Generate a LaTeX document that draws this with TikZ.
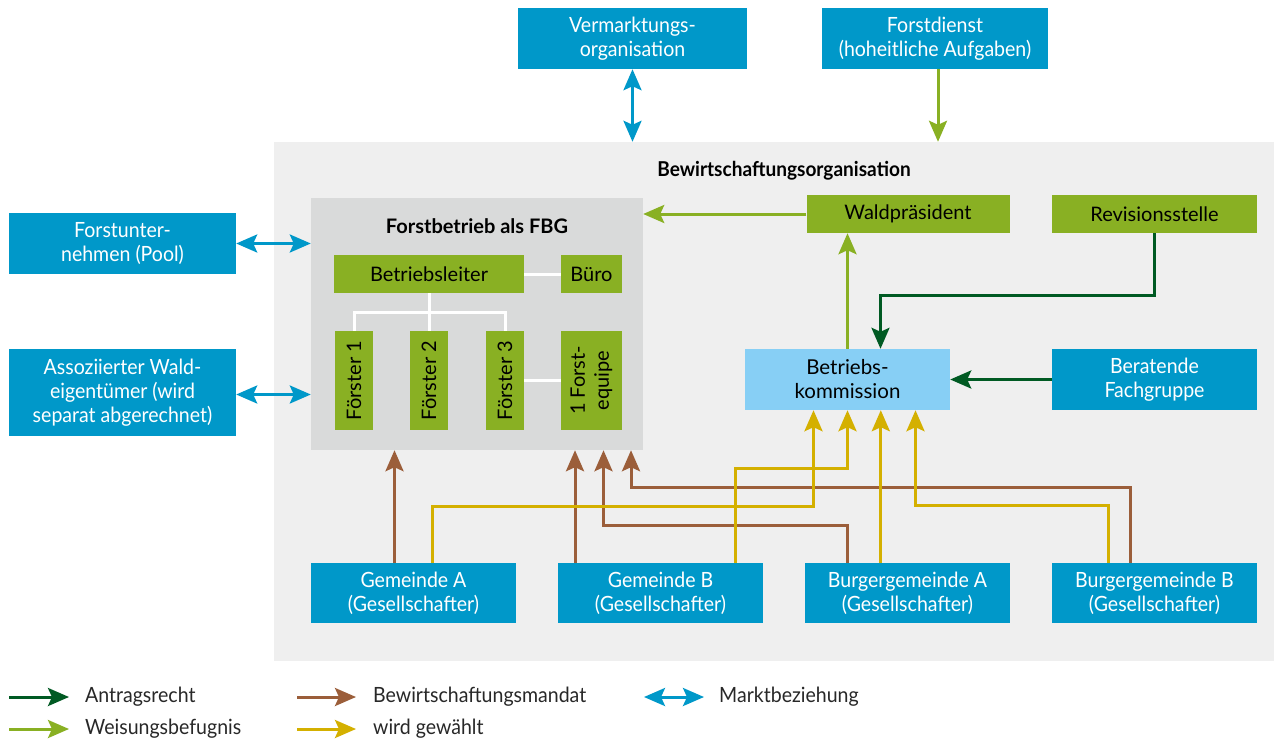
\documentclass[tikz,border=0pt]{standalone}
\usepackage{fontspec}
\setmainfont{Lato}
\newfontfamily\cond[FakeStretch=0.93]{Lato}
\usetikzlibrary{arrows.meta,calc,positioning}
\definecolor{boxblue}{RGB}{0,152,201}
\definecolor{boxgreen}{RGB}{137,176,35}
\definecolor{komblue}{RGB}{135,207,245}
\definecolor{antraggreen}{RGB}{0,90,35}
\definecolor{mandatbrown}{RGB}{155,94,58}
\definecolor{wahlyellow}{RGB}{212,176,0}
\definecolor{orggrey}{RGB}{239,239,239}
\definecolor{fbggrey}{RGB}{217,218,218}
\definecolor{legtext}{RGB}{40,40,40}
\tikzset{
  box/.style={rectangle, inner sep=0pt, align=center},
  bbox/.style={box, fill=boxblue, text=white, font=\cond\fontsize{21}{24}\selectfont},
  gbox/.style={box, fill=boxgreen, text=black, font=\fontsize{20}{22}\selectfont},
  kbox/.style={box, fill=komblue, text=black, font=\fontsize{20.5}{24}\selectfont},
  antrag/.style={line width=3pt, draw=antraggreen, ->},
  weisung/.style={line width=3pt, draw=boxgreen, ->},
  mandat/.style={line width=3pt, draw=mandatbrown, ->},
  gewaehlt/.style={line width=3pt, draw=wahlyellow, ->},
  markt/.style={line width=3pt, draw=boxblue, <->},
  orgline/.style={line width=3pt, draw=white},
  legend/.style={anchor=west, inner sep=0pt, text=legtext, font=\cond\fontsize{21}{24}\selectfont}
}
\begin{document}
\begin{tikzpicture}[x=1pt,y=-1pt,>={Stealth[length=21pt,width=18pt,inset=4pt]}]
\useasboundingbox (0,0) rectangle (1274,742);
\fill[white] (0,0) rectangle (1274,742);
\node (bwo) at (774,401.5) [box, fill=orggrey, minimum width=1000pt, minimum height=519pt] {};
\node (bwotitle) at (784,171) [font=\cond\bfseries\fontsize{20.5}{24}\selectfont] {Bewirtschaftungsorganisation};
\node (fbg) at (477,324) [box, fill=fbggrey, minimum width=332pt, minimum height=252pt] {};
\node (fbgtitle) at (477,226) [font=\bfseries\fontsize{20}{22}\selectfont] {Forstbetrieb als FBG};
% outside
\node (verm) at (632.5,38.5) [bbox, minimum width=229pt, minimum height=61pt] {Vermarktungs-\\organisation};
\node (forstd) at (935,38.5) [bbox, minimum width=226pt, minimum height=61pt] {Forstdienst\\(hoheitliche Aufgaben)};
\node (fu) at (122.5,243.5) [bbox, minimum width=227pt, minimum height=61pt] {Forstunter-\\nehmen (Pool)};
\node (awe) at (122.5,392.5) [bbox, minimum width=227pt, minimum height=87pt] {Assoziierter Wald-\\eigentümer (wird\\separat abgerechnet)};
% forstbetrieb
\node (bl) at (429,274) [gbox, minimum width=190pt, minimum height=38pt] {Betriebsleiter};
\node (buero) at (591.5,274) [gbox, minimum width=61pt, minimum height=38pt] {Büro};
\node (f1) at (354,380.5) [gbox, rotate=90, minimum width=99pt, minimum height=38pt] {Förster 1};
\node (f2) at (429,380.5) [gbox, rotate=90, minimum width=99pt, minimum height=38pt] {Förster 2};
\node (f3) at (505,380.5) [gbox, rotate=90, minimum width=99pt, minimum height=38pt] {Förster 3};
\node (equipe) at (591.5,380.5) [gbox, rotate=90, minimum width=99pt, minimum height=61pt, font=\fontsize{20}{24}\selectfont] {1 Forst-\\equipe};
% gremien
\node (wp) at (908,214) [gbox, minimum width=203pt, minimum height=38pt] {Waldpräsident};
\node (rev) at (1154.5,214) [gbox, minimum width=205pt, minimum height=38pt] {Revisionsstelle};
\node (bk) at (847.5,379.5) [kbox, minimum width=205pt, minimum height=61pt] {Betriebs-\\kommission};
\node (ber) at (1154.5,379.5) [bbox, minimum width=205pt, minimum height=61pt] {Beratende\\Fachgruppe};
% gesellschafter
\node (gA) at (413.5,593) [bbox, minimum width=205pt, minimum height=60pt] {Gemeinde A\\(Gesellschafter)};
\node (gB) at (660.5,593) [bbox, minimum width=205pt, minimum height=60pt] {Gemeinde B\\(Gesellschafter)};
\node (bgA) at (907.5,593) [bbox, minimum width=205pt, minimum height=60pt] {Burgergemeinde A\\(Gesellschafter)};
\node (bgB) at (1154.5,593) [bbox, minimum width=205pt, minimum height=60pt] {Burgergemeinde B\\(Gesellschafter)};
% organigramm
\draw[orgline] (bl.east) -- (buero.west);
\draw[orgline] (f3.south) -- (equipe.north);
\draw[orgline] (bl.south) -- ++(0,19) coordinate (knot);
\draw[orgline] (f1.east) |- (knot) -| (f3.east);
\draw[orgline] (knot) -- (f2.east);
% connectors
\draw[markt] (verm.south) -- (verm.south |- bwo.north);
\draw[weisung] ([xshift=3pt]forstd.south) -- ([xshift=3pt]forstd.south |- bwo.north);
\draw[markt] (fu.east) -- (fu.east -| fbg.west);
\draw[markt] ([yshift=-2pt]awe.east) -- ([yshift=-2pt]awe.east -| fbg.west);
\draw[weisung] (wp.west) -- (wp.west -| fbg.east);
\draw[weisung] (bk.north) -- (bk.north |- wp.south);
\draw[antrag] (rev.south) -- ++(0,62) -| ([xshift=33pt]bk.north);
\draw[antrag] (ber.west) -- (bk.east);
\draw[mandat] ([xshift=-19pt]gA.north) -- ([xshift=-19pt]gA.north |- fbg.south);
\draw[mandat] ([xshift=-85.5pt]gB.north) -- ([xshift=-85.5pt]gB.north |- fbg.south);
\draw[mandat] ([xshift=-60pt]bgA.north) -- ++(0,-37) -| ([xshift=126.5pt]fbg.south);
\draw[mandat] ([xshift=-24.5pt]bgB.north) -- ++(0,-75.3) -| ([xshift=154pt]fbg.south);
\draw[gewaehlt] ([xshift=18.5pt]gA.north) -- ++(0,-56.3) -| ([xshift=-34pt]bk.south);
\draw[gewaehlt] ([xshift=75pt]gB.north) -- ++(0,-94) -| (bk.south);
\draw[gewaehlt] ([xshift=-26.7pt]bgA.north) -- ([xshift=-26.7pt]bgA.north |- bk.south);
\draw[gewaehlt] ([xshift=-46pt]bgB.north) -- ++(0,-57) -| ([xshift=68pt]bk.south);
% legende
\node (lantrag) at (85,697) [legend] {Antragsrecht};
\node (lweisung) at (85,729) [legend] {Weisungsbefugnis};
\node (lmandat) at (373,697) [legend] {Bewirtschaftungsmandat};
\node (lwahl) at (373,729) [legend] {wird gewählt};
\node (lmarkt) at (719,697) [legend] {Marktbeziehung};
\draw[antrag] ([xshift=-76pt]lantrag.west) -- ([xshift=-16pt]lantrag.west);
\draw[weisung] ([xshift=-76pt]lweisung.west) -- ([xshift=-16pt]lweisung.west);
\draw[mandat] ([xshift=-76pt]lmandat.west) -- ([xshift=-17pt]lmandat.west);
\draw[gewaehlt] ([xshift=-76pt]lwahl.west) -- ([xshift=-17pt]lwahl.west);
\draw[markt] ([xshift=-75pt]lmarkt.west) -- ([xshift=-15pt]lmarkt.west);
\end{tikzpicture}
\end{document}
